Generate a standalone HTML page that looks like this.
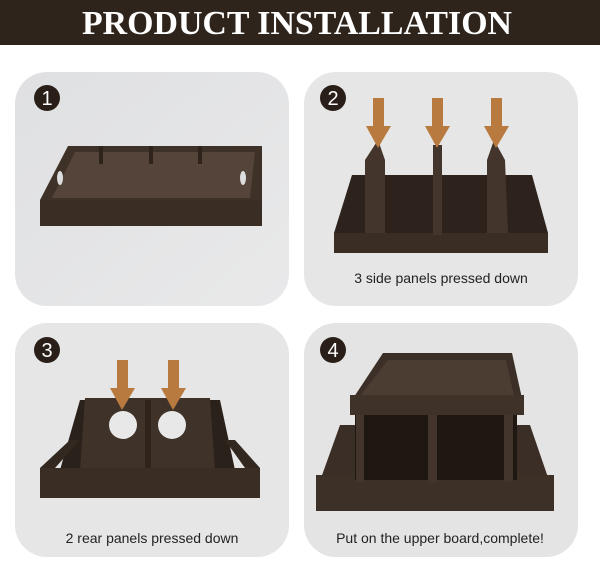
<!DOCTYPE html>
<html><head><meta charset="utf-8"><style>
body{margin:0;width:600px;height:562px;background:#fff;overflow:hidden}
</style></head><body>
<svg width="600" height="562" xmlns="http://www.w3.org/2000/svg">
<defs>
<linearGradient id="g1" x1="0" y1="0" x2="1" y2="1"><stop offset="0" stop-color="#dfe0e2"/><stop offset="1" stop-color="#e9e9ea"/></linearGradient>
</defs>
<rect x="0" y="0" width="600" height="45" fill="#2e241c"/>
<text x="297" y="34" text-anchor="middle" font-family="Liberation Serif, serif" font-weight="bold" font-size="34" fill="#fff" textLength="430" lengthAdjust="spacingAndGlyphs">PRODUCT INSTALLATION</text>

<rect x="15" y="72" width="274" height="234" rx="32" fill="url(#g1)"/>
<rect x="304" y="72" width="274" height="234" rx="32" fill="#e6e6e6"/>
<rect x="15" y="323" width="274" height="234" rx="32" fill="#e6e6e6"/>
<rect x="304" y="323" width="274" height="234" rx="32" fill="#e4e4e4"/>

<g font-family="Liberation Sans, sans-serif" font-size="20" fill="#fff" text-anchor="middle">
<circle cx="47" cy="98" r="13" fill="#2a1f18"/><text x="47" y="105">1</text>
<circle cx="333" cy="98" r="13" fill="#2a1f18"/><text x="333" y="105">2</text>
<circle cx="47" cy="350" r="13" fill="#2a1f18"/><text x="47" y="357">3</text>
<circle cx="333" cy="350" r="13" fill="#2a1f18"/><text x="333" y="357">4</text>
</g>

<polygon points="68,146 262,146 262,200 40,200" fill="#3e3128"/>
<polygon points="75,152 255,152 250,198 52,198" fill="#54443a"/>
<rect x="40" y="200" width="222" height="26" fill="#3a2d24"/>
<rect x="99" y="146" width="4" height="18" fill="#2e241c"/>
<rect x="149" y="146" width="4" height="18" fill="#2e241c"/>
<rect x="198" y="146" width="4" height="18" fill="#2e241c"/>
<ellipse cx="60" cy="178" rx="3" ry="7" fill="#ddd"/>
<ellipse cx="243" cy="178" rx="3" ry="7" fill="#ddd"/>

<polygon points="352,175 532,175 548,233 334,233" fill="#2d231c"/>
<rect x="334" y="233" width="214" height="20" fill="#3a2d24"/>
<polygon points="365,160 378,140 385,160 385,233 365,233" fill="#43352b"/>
<rect x="433" y="145" width="9" height="90" fill="#43352b"/>
<polygon points="487,160 494,140 505,160 508,233 487,233" fill="#43352b"/>
<g fill="#b87a3e">
<rect x="373" y="98" width="11" height="28"/><polygon points="366,126 391,126 378,148"/>
<rect x="432" y="98" width="11" height="28"/><polygon points="425,126 450,126 437,148"/>
<rect x="491" y="98" width="11" height="28"/><polygon points="484,126 509,126 496,148"/>
</g>
<text x="441" y="283" text-anchor="middle" font-family="Liberation Sans, sans-serif" font-size="14" fill="#222">3 side panels pressed down</text>

<polygon points="80,400 220,400 235,470 60,470" fill="#2b211b"/>
<polygon points="85,398 210,398 215,470 80,470" fill="#3f3229"/>
<rect x="145" y="400" width="6" height="98" fill="#2e241c"/>
<rect x="40" y="468" width="220" height="30" fill="#3a2d24"/>
<polygon points="40,468 70,440 80,440 55,468" fill="#33281f"/>
<polygon points="260,468 235,440 225,440 245,468" fill="#33281f"/>
<circle cx="123" cy="425" r="14" fill="#e8e8e8"/>
<circle cx="172" cy="425" r="14" fill="#e8e8e8"/>
<g fill="#b87a3e">
<rect x="117" y="360" width="11" height="28"/><polygon points="110,388 135,388 122,410"/>
<rect x="168" y="360" width="11" height="28"/><polygon points="161,388 186,388 173,410"/>
</g>
<text x="152" y="543" text-anchor="middle" font-family="Liberation Sans, sans-serif" font-size="14" fill="#222">2 rear panels pressed down</text>

<polygon points="340,425 530,425 553,492 316,492" fill="#3a2e26"/>
<rect x="316" y="475" width="238" height="36" fill="#3d3027"/>
<rect x="355" y="410" width="162" height="70" fill="#1e1712"/>
<rect x="356" y="410" width="8" height="72" fill="#43352b"/>
<rect x="428" y="413" width="9" height="70" fill="#43352b"/>
<rect x="504" y="410" width="9" height="72" fill="#43352b"/>
<polygon points="383,353 512,353 523,403 350,403" fill="#3b2f27"/>
<polygon points="388,360 506,360 514,396 360,396" fill="#4c3d33"/>
<rect x="350" y="395" width="174" height="20" fill="#3f3229"/>
<text x="440" y="543" text-anchor="middle" font-family="Liberation Sans, sans-serif" font-size="14" fill="#222">Put on the upper board,complete!</text>
</svg>
</body></html>
